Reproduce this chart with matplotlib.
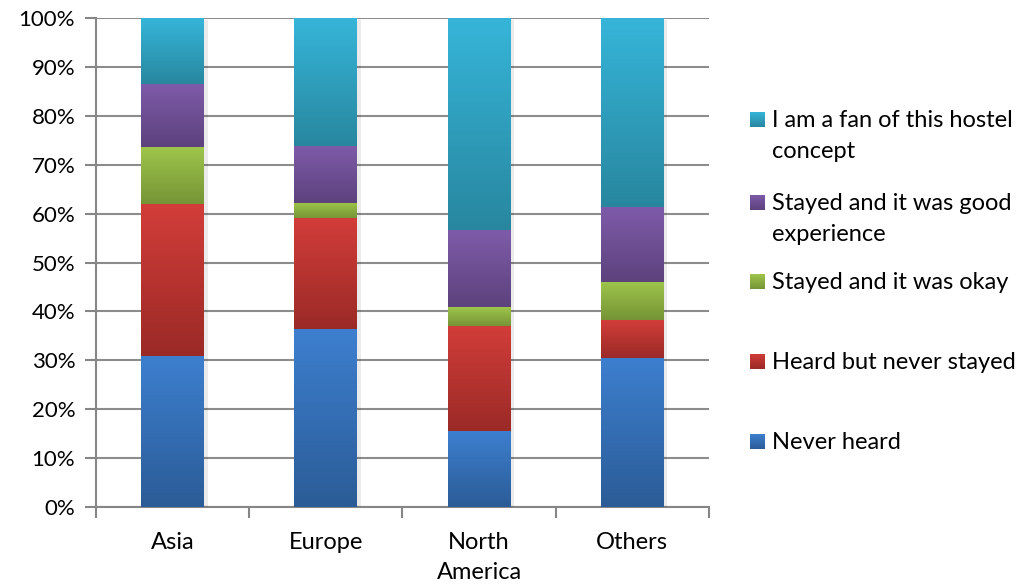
import matplotlib.pyplot as plt
import numpy as np
from matplotlib.colors import LinearSegmentedColormap
import matplotlib.patheffects as pe

plt.rcParams['font.family'] = ['Lato', 'DejaVu Sans']

regions = ["Asia", "Europe", "North\nAmerica", "Others"]
series_names = ["Never heard", "Heard but never stayed", "Stayed and it was okay",
                "Stayed and it was good\nexperience", "I am a fan of this hostel\nconcept"]
never_heard = [30.9, 36.4, 15.5, 30.5]
heard_not_stayed = [31.1, 22.7, 21.6, 7.7]
stayed_okay = [11.6, 3.1, 3.8, 7.8]
stayed_good = [13.0, 11.7, 15.7, 15.3]
fan = [13.4, 26.1, 43.4, 38.7]
series = [never_heard, heard_not_stayed, stayed_okay, stayed_good, fan]

# (top colour, bottom colour) of each gradient fill
grad = [("#3d7fcf", "#2b5c97"),
        ("#d23d39", "#9b2a27"),
        ("#9ec54b", "#769436"),
        ("#7e5ba9", "#5d427d"),
        ("#36b5d9", "#28879f")]

fig = plt.figure(figsize=(10.34, 5.85), dpi=100)
ax = fig.add_axes([96/1034, 1-507/585, (709-96)/1034, (507-18)/585])

x = np.arange(len(regions))
width = 0.41
bottom = np.zeros(len(regions))
for vals, (ctop, cbot) in zip(series, grad):
    bars = ax.bar(x, vals, width, bottom=bottom, color=cbot, zorder=3,
                  path_effects=[pe.SimplePatchShadow(offset=(2.5, -1.5), shadow_rgbFace='k', alpha=0.08),
                                pe.Normal()])
    cmap = LinearSegmentedColormap.from_list("g", [cbot, ctop])
    for b in bars:
        x0, y0, w, h = b.get_x(), b.get_y(), b.get_width(), b.get_height()
        ax.imshow(np.linspace(0, 1, 100).reshape(-1, 1), cmap=cmap, aspect='auto',
                  origin='lower', extent=(x0, x0 + w, y0, y0 + h), zorder=4,
                  interpolation='bilinear')
    bottom += np.array(vals)

ax.set_xlim(-0.5, len(regions) - 0.5)
ax.set_ylim(0, 100)
ax.set_yticks(np.arange(0, 101, 10))
ax.set_yticklabels([f"{v}%" for v in range(0, 101, 10)], fontsize=16)
ax.set_xticks(x)
ax.set_xticklabels(regions, fontsize=17, linespacing=1.55)
ax.set_xticks(np.arange(-0.5, len(regions)), minor=True)
ax.tick_params(axis='x', which='major', length=0, pad=18)
ax.tick_params(axis='x', which='minor', length=8, color='#868686', width=1.5)
ax.tick_params(axis='y', length=8, color='#868686', width=1.5, pad=7)
ax.grid(axis='y', color='#8c8c8c', linewidth=1.5, zorder=0)
ax.set_axisbelow(True)
for s in ['top', 'right']:
    ax.spines[s].set_visible(False)
for s in ['left', 'bottom']:
    ax.spines[s].set_color('#868686')
    ax.spines[s].set_linewidth(1.5)

# legend drawn by hand so the entries sit where they do in the original layout
legend_y = [119, 202, 281, 361, 441]
for name, (ctop, cbot), ly in zip(series_names[::-1], grad[::-1], legend_y):
    fx = 750 / 1034
    fy = 1 - (ly + 8) / 585
    sq = fig.add_axes([fx, fy, 15/1034, 15/585])
    sq.imshow(np.linspace(0, 1, 50).reshape(-1, 1),
              cmap=LinearSegmentedColormap.from_list("g", [cbot, ctop]),
              aspect='auto', origin='lower')
    sq.axis('off')
    fig.text(772/1034, 1 - (ly - 9)/585, name, fontsize=17, va='top', ha='left',
             linespacing=1.6)

fig.savefig("out.png", dpi=100)
